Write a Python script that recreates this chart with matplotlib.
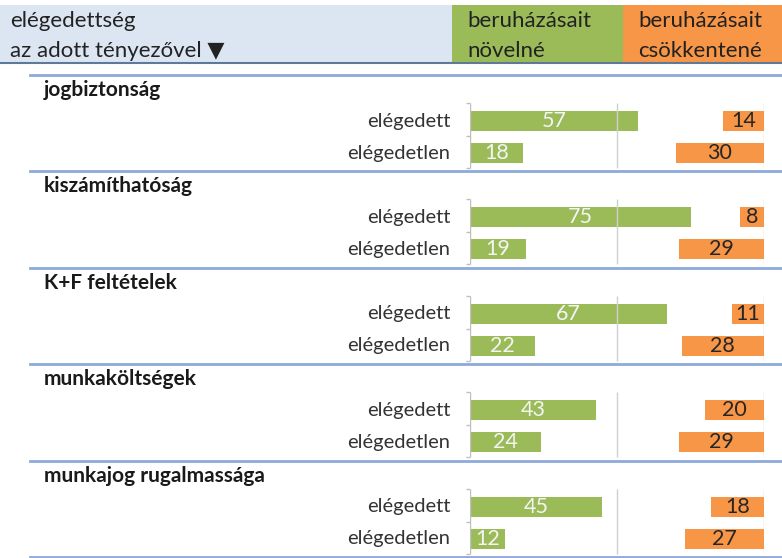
import matplotlib.pyplot as plt
from matplotlib.patches import Rectangle
import numpy as np

plt.rcParams['font.family'] = ['Lato', 'DejaVu Sans']

# adatok
factors = ['jogbiztonság', 'kiszámíthatóság', 'K+F feltételek', 'munkaköltségek', 'munkajog rugalmassága']
rows = ['elégedett', 'elégedetlen']
novelne_elegedett = [57, 75, 67, 43, 45]
novelne_elegedetlen = [18, 19, 22, 24, 12]
csokk_elegedett = [14, 8, 11, 20, 18]
csokk_elegedetlen = [30, 29, 28, 29, 27]
header_left = ['elégedettség', 'az adott tényezővel ▼']
header_green = ['beruházásait', 'növelné']
header_orange = ['beruházásait', 'csökkentené']

W, H = 782, 558
GREEN = '#9bbb59'
ORANGE = '#f79646'
SEP = '#8eaadb'
TOP = 75
GH = 96.4
X0, X1 = 470, 764   # 0 es 100 helye pixelben

fig = plt.figure(figsize=(W / 100, H / 100), dpi=100)

# elrendezes tengely (pixel koordinatak)
lay = fig.add_axes([0, 0, 1, 1])
lay.set_xlim(0, W)
lay.set_ylim(H, 0)
lay.axis('off')

# fejlec
lay.add_patch(Rectangle((0, 5), 452, 58, color='#dce6f2', lw=0))
lay.add_patch(Rectangle((452, 5), 171, 58, color=GREEN, lw=0))
lay.add_patch(Rectangle((623, 5), W - 623, 58, color=ORANGE, lw=0))
lay.plot([0, W], [63, 63], color='#5f7a99', lw=1.5)
hs = 16
for i, t in enumerate(header_left):
    lay.text(10, 21 + 30 * i, t, fontsize=hs, va='center', ha='left', color='#222222')
for i, t in enumerate(header_green):
    lay.text(467, 21 + 30 * i, t, fontsize=hs, va='center', ha='left', color='#222222')
for i, t in enumerate(header_orange):
    lay.text(638, 21 + 30 * i, t, fontsize=hs, va='center', ha='left', color='#222222')

# elvalaszto vonalak
for g in range(len(factors) + 1):
    y = TOP + GH * g
    lay.plot([30, W], [y, y], color=SEP, lw=2)

# oszlopok tengelyei
ax = fig.add_axes([X0 / W, 0, (X1 - X0) / W, 1])
ax.set_xlim(0, 100)
ax.set_ylim(H, 0)
ax.axis('off')
ax2 = fig.add_axes([X0 / W, 0, (X1 - X0) / W, 1])
ax2.set_xlim(100, 0)
ax2.set_ylim(H, 0)
ax2.axis('off')

tops = TOP + GH * np.arange(len(factors))
y1 = tops + 46
y2 = tops + 78

for g, f in enumerate(factors):
    lay.text(44, tops[g] + 15, f, fontsize=15, fontweight='bold', va='center', ha='left', color='#1a1a1a')
    for y, r in zip([y1[g], y2[g]], rows):
        lay.text(450, y, r, fontsize=14.5, va='center', ha='right', color='#333333')
    # racsvonalak es tengely
    ax.vlines([50, 100], tops[g] + 28, tops[g] + 93, color='#d0d0d0', lw=1)
    ax.vlines(0, tops[g] + 28, tops[g] + 93, color='#bfbfbf', lw=1)
    ax.hlines([tops[g] + 28, tops[g] + 61, tops[g] + 93], -1.2, 0, color='#bfbfbf', lw=1, clip_on=False)

for ys, vals in [(y1, novelne_elegedett), (y2, novelne_elegedetlen)]:
    ax.barh(ys, vals, height=20, color=GREEN)
    for y, v in zip(ys, vals):
        ax.text(v / 2, y, str(v), fontsize=15.5, va='center', ha='center', color='#f4f4f4')

for ys, vals in [(y1, csokk_elegedett), (y2, csokk_elegedetlen)]:
    ax2.barh(ys, vals, height=20, color=ORANGE)
    for y, v in zip(ys, vals):
        ax2.text(v / 2, y, str(v), fontsize=15.5, va='center', ha='center', color='#262626')

fig.savefig('out.png', dpi=100)
